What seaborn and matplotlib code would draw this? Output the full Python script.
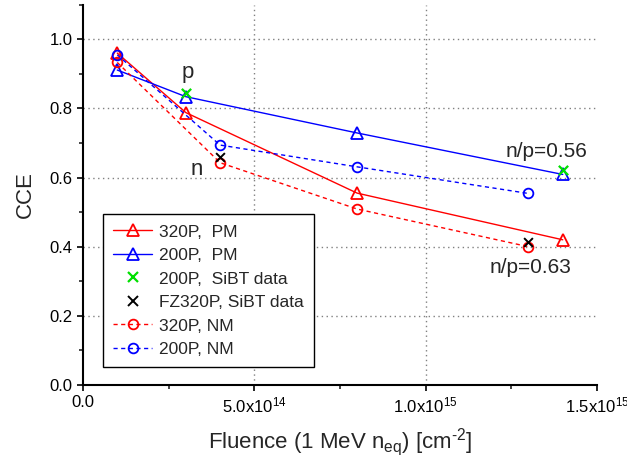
import numpy as np
import pandas as pd
import matplotlib
matplotlib.use("Agg")
import matplotlib.pyplot as plt
import seaborn as sns
from matplotlib.lines import Line2D

# ---- data ----
x_pm = [1e14, 3e14, 8e14, 1.4e15]
cce_320p_pm = [0.960, 0.788, 0.555, 0.420]
cce_200p_pm = [0.911, 0.834, 0.729, 0.609]

x_sibt_200 = [3e14, 1.4e15]
cce_200p_sibt = [0.844, 0.622]
x_sibt_fz = [4e14, 1.3e15]
cce_fz320p_sibt = [0.660, 0.415]

x_nm = [1e14, 4e14, 8e14, 1.3e15]
cce_320p_nm = [0.933, 0.643, 0.509, 0.400]
cce_200p_nm = [0.955, 0.694, 0.631, 0.554]

labels = ["320P,  PM", "200P,  PM", "200P,  SiBT data",
          "FZ320P, SiBT data", "320P, NM", "200P, NM"]
xtick_vals = [0, 5e14, 1e15, 1.5e15]
xtick_labels = ["0.0", r"5.0x10$^{14}$", r"1.0x10$^{15}$", r"1.5x10$^{15}$"]
ytick_vals = [0.0, 0.2, 0.4, 0.6, 0.8, 1.0]

sns.set_theme(style="ticks")
plt.rcParams["font.family"] = ["Liberation Sans", "DejaVu Sans"]
plt.rcParams["mathtext.fontset"] = "custom"
plt.rcParams["mathtext.rm"] = "Liberation Sans"
plt.rcParams["mathtext.it"] = "Liberation Sans:italic"
plt.rcParams["mathtext.default"] = "regular"

fig = plt.figure(figsize=(6.27, 4.67), dpi=100)
ax = fig.add_axes([83/627, 1-385/467, (597-83)/627, (385-4.7)/467])

RED = "#ff0000"
BLUE = "#0000ff"
GREEN = "#00e000"
dash = (0, (3, 2.5))

sns.lineplot(x=x_pm, y=cce_320p_pm, ax=ax, color=RED, marker="^", markersize=8,
             markerfacecolor="none", markeredgecolor=RED, markeredgewidth=1.3,
             linewidth=1.0, label=labels[0], legend=False)
sns.lineplot(x=x_pm, y=cce_200p_pm, ax=ax, color=BLUE, marker="^", markersize=8,
             markerfacecolor="none", markeredgecolor=BLUE, markeredgewidth=1.3,
             linewidth=1.0, label=labels[1], legend=False)
sns.lineplot(x=x_nm, y=cce_320p_nm, ax=ax, color=RED, marker="o", markersize=7,
             markerfacecolor="none", markeredgecolor=RED, markeredgewidth=1.3,
             linewidth=1.0, linestyle=dash, label=labels[4], legend=False)
sns.lineplot(x=x_nm, y=cce_200p_nm, ax=ax, color=BLUE, marker="o", markersize=7,
             markerfacecolor="none", markeredgecolor=BLUE, markeredgewidth=1.3,
             linewidth=1.0, linestyle=dash, label=labels[5], legend=False)
sns.scatterplot(x=x_sibt_200, y=cce_200p_sibt, ax=ax, color=GREEN, marker="x", s=45,
                linewidth=1.6, label=labels[2], legend=False, zorder=5)
sns.scatterplot(x=x_sibt_fz, y=cce_fz320p_sibt, ax=ax, color="black", marker="x", s=40,
                linewidth=1.4, label=labels[3], legend=False, zorder=6)

lines = ax.get_lines()
handles = [
    lines[0], lines[1],
    Line2D([], [], color=GREEN, marker="x", linestyle="none", markersize=7, markeredgewidth=1.6),
    Line2D([], [], color="black", marker="x", linestyle="none", markersize=7, markeredgewidth=1.4),
    lines[2], lines[3],
]

ax.set_xlim(0, 1.5e15)
ax.set_ylim(0, 1.1)
ax.set_xticks(xtick_vals)
ax.set_xticklabels(xtick_labels)
ax.set_xticks(np.arange(2.5e14, 1.5e15, 5e14), minor=True)
ax.set_yticks(ytick_vals)
ax.set_yticklabels([f"{v:.1f}" for v in ytick_vals])
ax.set_yticks([0.1, 0.3, 0.5, 0.7, 0.9, 1.1], minor=True)
ax.tick_params(axis="both", which="major", direction="out", length=4.5, width=1.2,
               labelsize=12, colors="black", pad=3)
ax.tick_params(axis="both", which="minor", direction="out", length=3, width=1.2)

for s in ["top", "right"]:
    ax.spines[s].set_visible(False)
for s in ["left", "bottom"]:
    ax.spines[s].set_linewidth(1.5)
    ax.spines[s].set_color("black")

ax.grid(True, which="major", linestyle=(0, (1, 2.5)), color="#808080", linewidth=1.0)
xg = ax.xaxis.get_gridlines()
xg[0].set_visible(False)
xg[-1].set_visible(False)
ax.yaxis.get_gridlines()[0].set_visible(False)

ax.set_ylabel("CCE", fontsize=16, labelpad=10)
ax.set_xlabel(r"Fluence (1 MeV n$_{eq}$) [cm$^{\text{-2}}$]", fontsize=16, labelpad=8)

ax.text(3.06e14, 0.888, "p", fontsize=16, ha="center", va="baseline")
ax.text(3.32e14, 0.607, "n", fontsize=16, ha="center", va="baseline")
ax.text(13.53e14, 0.660, "n/p=0.56", fontsize=15, ha="center", va="baseline")
ax.text(13.07e14, 0.323, "n/p=0.63", fontsize=15, ha="center", va="baseline")

leg = ax.legend(handles, labels, loc="upper left", bbox_to_anchor=(103/627, 1-214/467),
                bbox_transform=fig.transFigure, borderaxespad=0, fontsize=12.5,
                frameon=True, fancybox=False, framealpha=1, edgecolor="black",
                numpoints=1, handlelength=2.2, handletextpad=0.4, labelspacing=0.48,
                borderpad=0.6)
leg.get_frame().set_linewidth(1.0)

fig.savefig("out.png", dpi=100)
